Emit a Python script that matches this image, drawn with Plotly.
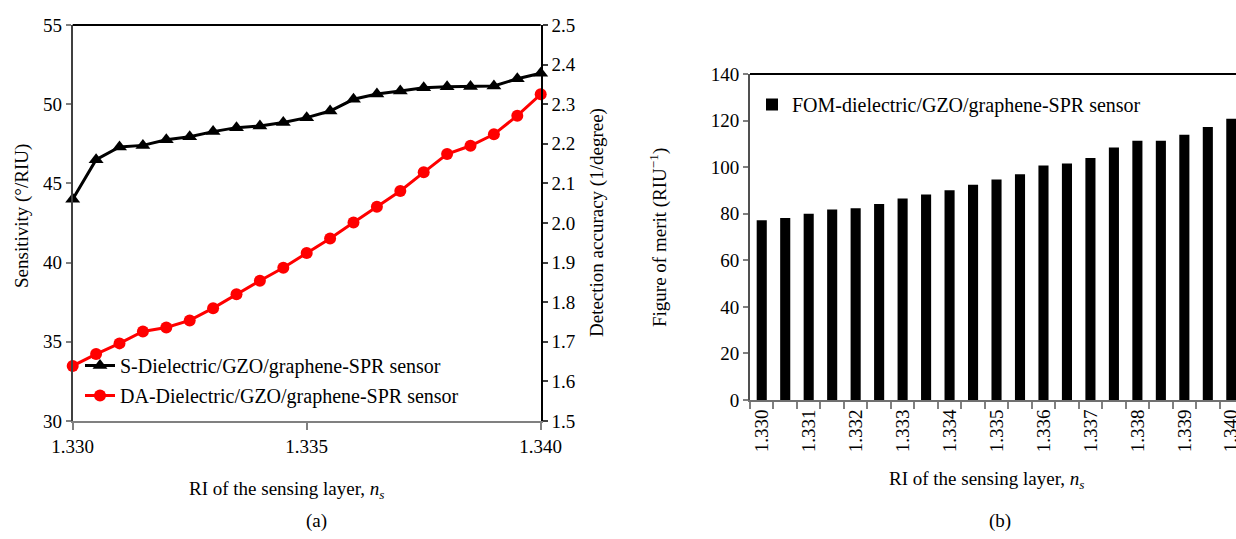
import plotly.graph_objects as go

# ---- data ----
ri = [1.3300, 1.3305, 1.3310, 1.3315, 1.3320, 1.3325, 1.3330, 1.3335, 1.3340, 1.3345,
      1.3350, 1.3355, 1.3360, 1.3365, 1.3370, 1.3375, 1.3380, 1.3385, 1.3390, 1.3395, 1.3400]
sensitivity = [44.0, 46.5, 47.3, 47.4, 47.75, 47.95, 48.27, 48.52, 48.62, 48.85,
               49.15, 49.57, 50.31, 50.64, 50.83, 51.04, 51.1, 51.12, 51.15, 51.61, 51.95]
detection_accuracy = [1.639, 1.669, 1.696, 1.726, 1.736, 1.754, 1.785, 1.820, 1.854, 1.887,
                      1.924, 1.961, 2.001, 2.041, 2.081, 2.128, 2.174, 2.195, 2.224, 2.271, 2.325]
fom = [77.2, 78.2, 80.0, 81.8, 82.3, 84.2, 86.5, 88.2, 90.1, 92.4,
       94.7, 97.0, 100.7, 101.6, 103.9, 108.4, 111.3, 111.3, 113.9, 117.2, 120.8]
ri_labels = ["1.330", "1.331", "1.332", "1.333", "1.334", "1.335",
             "1.336", "1.337", "1.338", "1.339", "1.340"]

W, H = 1236, 539
FONT = "Liberation Serif"
FS = 19
LFS = 20


def px(x):
    return x / W


def py(y):
    return 1 - y / H


fig = go.Figure()

fig.add_trace(go.Scatter(
    x=ri, y=sensitivity, mode="lines+markers",
    name="S-Dielectric/GZO/graphene-SPR sensor",
    line=dict(color="black", width=3),
    marker=dict(symbol="triangle-up", size=13, color="black"),
    xaxis="x", yaxis="y", cliponaxis=False, legend="legend", legendgroup="s",
))
fig.add_trace(go.Scatter(
    x=ri, y=detection_accuracy, mode="lines+markers",
    name="DA-Dielectric/GZO/graphene-SPR sensor",
    line=dict(color="#FF0000", width=3),
    marker=dict(symbol="circle", size=12, color="#FF0000"),
    xaxis="x", yaxis="y2", cliponaxis=False, legend="legend", legendgroup="da",
))

idx = list(range(len(fom)))
fig.add_trace(go.Bar(
    x=idx, y=fom, name="FOM-dielectric/GZO/graphene-SPR sensor",
    marker=dict(color="black", line=dict(width=0)), width=0.43,
    xaxis="x3", yaxis="y3", legend="legend2",
))

axis_font = dict(family=FONT, size=FS, color="black")

fig.update_layout(
    width=W, height=H,
    margin=dict(l=0, r=0, t=0, b=0, autoexpand=False),
    paper_bgcolor="white", plot_bgcolor="white",
    font=dict(family=FONT, size=FS, color="black"),
    xaxis=dict(
        domain=[px(72.7), px(540.7)], range=[1.330, 1.340],
        tickvals=[1.330, 1.335, 1.340], tickformat=".3f",
        ticks="outside", ticklen=7, tickcolor="#808080", tickwidth=1.5,
        showline=True, linecolor="#808080", linewidth=2, mirror=False,
        showgrid=False, zeroline=False, tickfont=axis_font, anchor="y",
        automargin=False,
    ),
    yaxis=dict(
        domain=[py(421), py(25)], range=[30, 55], dtick=5,
        ticks="outside", ticklen=5, tickcolor="#808080", tickwidth=1.5,
        showline=True, linecolor="#404040", linewidth=2,
        showgrid=False, zeroline=False, tickfont=axis_font, anchor="x",
        automargin=False,
    ),
    yaxis2=dict(
        overlaying="y", side="right", anchor="x", range=[1.5, 2.5], dtick=0.1,
        tickformat=".1f", ticks="outside", ticklen=5, tickcolor="#404040", tickwidth=1.5,
        showline=True, linecolor="black", linewidth=2,
        showgrid=False, zeroline=False, tickfont=axis_font, automargin=False,
    ),
    xaxis3=dict(
        domain=[px(750), 1.0], range=[-0.5, 20.2], anchor="y3",
        tickmode="array", tickvals=list(range(0, 21, 2)), ticktext=ri_labels,
        tickangle=-90, ticks="", tickfont=axis_font, ticklabeloverflow="allow",
        minor=dict(tickmode="array", tickvals=[i - 0.5 for i in range(22)],
                   ticks="outside", ticklen=7, tickcolor="#808080", tickwidth=1.5),
        showline=True, linecolor="#707070", linewidth=2, mirror=False,
        showgrid=False, zeroline=False, automargin=False,
    ),
    yaxis3=dict(
        domain=[py(400), py(74)], range=[0, 140], dtick=20, anchor="x3",
        ticks="outside", ticklen=5, tickcolor="#808080", tickwidth=1.5,
        showline=True, linecolor="#505050", linewidth=2,
        showgrid=False, zeroline=False, tickfont=axis_font, automargin=False,
    ),
    legend=dict(
        x=px(80), y=py(346), xanchor="left", yanchor="top",
        bgcolor="rgba(0,0,0,0)", font=dict(family=FONT, size=LFS, color="black"),
        itemwidth=30, tracegroupgap=1, traceorder="grouped",
    ),
    legend2=dict(
        x=px(752), y=py(85), xanchor="left", yanchor="top",
        bgcolor="rgba(0,0,0,0)", font=dict(family=FONT, size=LFS, color="black"),
    ),
    showlegend=True,
)

# top frame lines (black) of both panels
fig.add_shape(type="line", xref="x domain", yref="y domain", x0=0, x1=1, y0=1, y1=1,
              line=dict(color="black", width=2))
fig.add_shape(type="line", xref="x3 domain", yref="y3 domain", x0=0, x1=1, y0=1, y1=1,
              line=dict(color="black", width=2))

ann = [
    dict(text="Sensitivity (°/RIU)", x=px(22), y=py(216), textangle=-90),
    dict(text="Detection accuracy (1/degree)", x=px(597), y=py(223), textangle=-90),
    dict(text="RI of the sensing layer, <i>n<sub>s</sub></i>", x=px(286), y=py(490)),
    dict(text="(a)", x=px(316), y=py(521)),
    dict(text="Figure of merit (RIU<sup>−1</sup>)", x=px(658), y=py(237), textangle=-90),
    dict(text="RI of the sensing layer, <i>n<sub>s</sub></i>", x=px(986), y=py(480)),
    dict(text="(b)", x=px(1000), y=py(521)),
]
for a in ann:
    fig.add_annotation(xref="paper", yref="paper", showarrow=False,
                       xanchor="center", yanchor="middle",
                       font=dict(family=FONT, size=FS, color="black"), **a)

fig.write_html(
    "out.html",
    config={"displayModeBar": False},
    post_script="document.body.style.margin='0';document.body.style.overflow='hidden';",
)
